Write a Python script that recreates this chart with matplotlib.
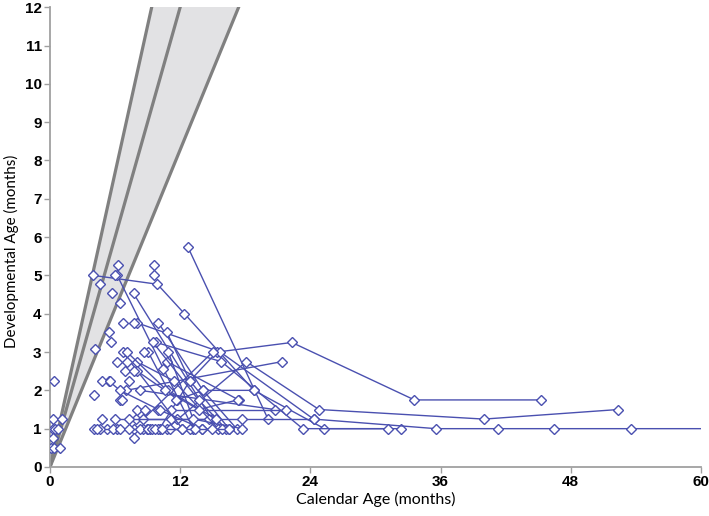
import matplotlib
matplotlib.use("Agg")
import matplotlib.pyplot as plt
import numpy as np

# reference band (developmental = slope * calendar)
band_slopes = [1.28, 1.0, 0.69]

# patients followed over time (calendar age, developmental age), months
track_cal = [
    [4.0, 9.9, 12.4, 18.8, 25.3, 32.4],
    [12.7, 20.1],
    [6.2, 13.2],
    [10.1, 12.9, 15.4, 22.3, 33.6, 45.3],
    [8.05, 15.7, 24.3, 35.6, 41.3, 46.5, 53.6, 62.0],
    [7.0, 21.4],
    [10.75, 18.1, 24.8, 40.0, 52.4],
    [9.8, 15.8, 23.3, 31.2],
    [7.7, 14.9],
    [8.3, 20.7],
    [11.2, 21.8],
    [10.8, 17.4],
    [7.9, 11.7, 17.7, 24.3],
    [8.6, 15.0],
    [6.0, 11.2, 14.7],
    [5.4, 6.45, 10.0, 14.0],
    [9.5, 13.7, 16.2],
    [10.0, 14.1, 17.2],
    [6.7, 12.2],
    [8.0, 11.4, 15.5],
    [10.75, 12.9, 16.5],
    [10.9, 13.2, 17.7],
    [4.1, 5.3, 6.2, 7.7, 8.9, 11.1, 12.9, 14.0, 15.9],
    [4.6, 5.8, 6.5, 8.6, 9.2, 10.0, 12.2, 13.4, 14.9, 16.5],
    [7.1, 11.7, 14.1, 18.8],
    [9.06, 10.9, 15.3],
    [8.05, 10.6, 13.7, 17.3],
]
track_dev = [
    [5.0, 4.77, 4.0, 2.0, 1.0, 1.0],
    [5.75, 1.25],
    [5.0, 1.0],
    [1.0, 2.25, 3.0, 3.25, 1.75, 1.75],
    [3.76, 3.0, 1.25, 1.0, 1.0, 1.0, 1.0, 1.0],
    [2.0, 2.75],
    [1.0, 2.75, 1.5, 1.25, 1.5],
    [3.25, 2.75, 1.0, 1.0],
    [4.53, 1.25],
    [2.0, 1.5],
    [1.5, 1.5],
    [2.75, 1.75],
    [1.25, 1.25, 1.25, 1.25],
    [1.25, 3.0],
    [1.25, 1.25, 1.25],
    [2.25, 2.0, 1.5, 1.0],
    [3.25, 1.75, 1.0],
    [3.76, 2.0, 1.0],
    [3.0, 1.0],
    [2.75, 2.25, 1.0],
    [3.53, 2.25, 1.0],
    [3.0, 1.25, 1.0],
    [1.0, 1.0, 1.0, 1.0, 1.0, 1.0, 1.0, 1.0, 1.0],
    [1.0, 1.0, 1.0, 1.0, 1.0, 1.0, 1.0, 1.0, 1.0, 1.0],
    [3.0, 1.75, 2.0, 2.0],
    [3.0, 2.0, 1.25],
    [2.5, 2.0, 1.5, 1.75],
]

# single assessments
single_cal = [0.4, 0.3, 1.1, 0.3, 0.5, 0.7, 0.25, 0.1, 0.4, 0.9,
              4.8, 4.1, 7.3, 6.5, 4.8, 7.7, 6.3, 4.6, 5.75, 6.5,
              6.7, 5.4, 5.6, 4.15, 9.6, 9.6, 6.0, 5.5, 6.2, 7.1,
              6.9, 7.75, 7.3, 8.7, 8.0, 8.75, 10.1, 10.4, 4.3, 7.3,
              8.3, 9.0, 9.4, 9.7, 10.3, 7.7, 6.6, 11.6]
single_dev = [2.25, 1.25, 1.25, 1.0, 1.0, 1.0, 0.75, 0.5, 0.5, 0.5,
              2.25, 1.88, 2.25, 1.75, 1.25, 0.75, 5.27, 4.77, 4.53, 4.27,
              3.76, 3.53, 3.27, 3.07, 5.27, 5.0, 5.0, 2.25, 2.75, 2.75,
              2.5, 2.5, 1.25, 3.0, 1.5, 1.5, 1.5, 2.55, 1.0, 1.0,
              1.0, 1.0, 1.0, 1.0, 1.0, 3.76, 1.75, 1.75]

blue = "#4a50b0"

fig = plt.figure(figsize=(7.09, 5.16), dpi=100)
ax = fig.add_axes([0.0705, 0.095, 0.918, 0.891])

# shaded band
xb = np.array([0, 20])
ax.fill_between(xb, band_slopes[2] * xb, band_slopes[0] * xb,
                color="#e2e2e4", zorder=1, linewidth=0)
for s in band_slopes:
    ax.plot(xb, s * xb, color="#808080", linewidth=2.3, zorder=2,
            solid_capstyle="butt")

for xs, ys in zip(track_cal, track_dev):
    ax.plot(xs, ys, color=blue, linewidth=1.0, marker="D", markersize=4.6,
            markerfacecolor="white", markeredgecolor=blue,
            markeredgewidth=1.0, zorder=3)

ax.plot(single_cal, single_dev, linestyle="none", marker="D", markersize=4.6,
        markerfacecolor="white", markeredgecolor=blue, markeredgewidth=1.0,
        zorder=4)

ax.set_xlim(0, 60)
ax.set_ylim(0, 12)
ax.set_xticks(range(0, 61, 12))
ax.set_yticks(range(0, 13))

for side in ("top", "right"):
    ax.spines[side].set_visible(False)
for side in ("left", "bottom"):
    ax.spines[side].set_color("#a0a0a0")
    ax.spines[side].set_linewidth(1.3)
ax.tick_params(direction="out", length=4, width=1.0, color="#a0a0a0",
               labelsize=11, pad=2)
for lab in ax.get_xticklabels() + ax.get_yticklabels():
    lab.set_fontfamily("Liberation Sans")
    lab.set_fontweight("bold")

ax.set_xlabel("Calendar Age (months)", fontsize=11.5, fontfamily="Lato")
ax.set_ylabel("Developmental Age (months)", fontsize=10.9, fontfamily="Lato")
ax.xaxis.set_label_coords(0.5, -0.055)
ax.yaxis.set_label_coords(-0.047, 0.47)

fig.savefig("out.png", dpi=100)
